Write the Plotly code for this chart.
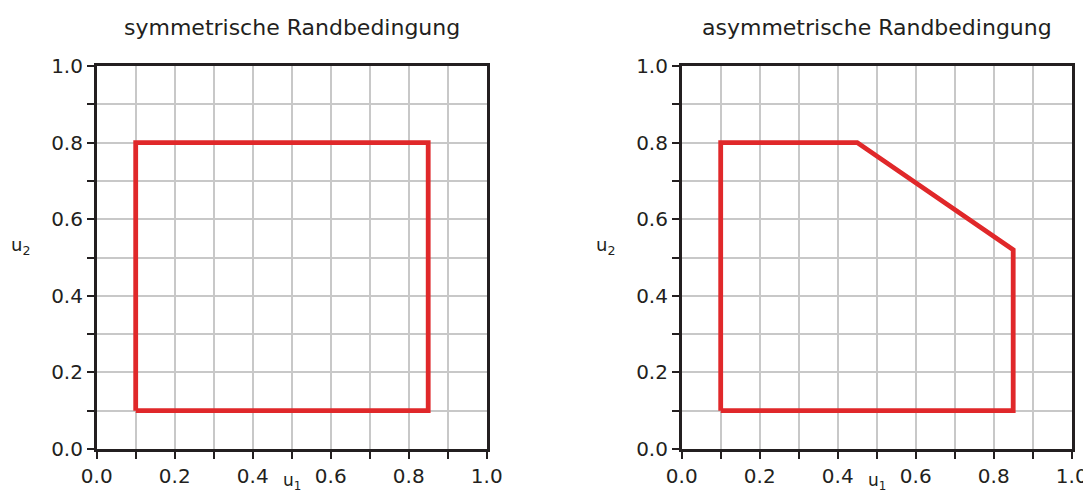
import plotly.graph_objects as go

# Data
sym_u1 = [0.1, 0.85, 0.85, 0.1, 0.1]
sym_u2 = [0.1, 0.1, 0.8, 0.8, 0.1]
asym_u1 = [0.1, 0.85, 0.85, 0.45, 0.1, 0.1]
asym_u2 = [0.1, 0.1, 0.52, 0.8, 0.8, 0.1]
titles = ["symmetrische Randbedingung", "asymmetrische Randbedingung"]
tick_vals = [0.0, 0.2, 0.4, 0.6, 0.8, 1.0]
tick_text = ["0.0", "0.2", "0.4", "0.6", "0.8", "1.0"]

W, H = 1091, 495
OFF = 8  # page body margin offset
RED = "#E0282A"
AXC = "#231F20"
GRID = "#C8C8C8"
FONT = "DejaVu Sans, Liberation Sans, Arial, sans-serif"


def px_x(p):
    return (p - OFF) / W


def px_y(p):
    return 1 - (p - OFF) / H


fig = go.Figure()
fig.add_trace(go.Scatter(x=sym_u1, y=sym_u2, mode="lines",
                         line=dict(color=RED, width=4.8), xaxis="x", yaxis="y",
                         showlegend=False, hoverinfo="skip"))
fig.add_trace(go.Scatter(x=asym_u1, y=asym_u2, mode="lines",
                         line=dict(color=RED, width=4.8), xaxis="x2", yaxis="y2",
                         showlegend=False, hoverinfo="skip"))

dom_y = [px_y(449), px_y(66)]
dom_x1 = [px_x(96.7), px_x(486.7)]
dom_x2 = [px_x(681.7), px_x(1071.7)]


def axis(domain, anchor):
    return dict(
        domain=domain, anchor=anchor, range=[0, 1], automargin=False,
        tickmode="array", tickvals=tick_vals, ticktext=tick_text,
        ticks="outside", ticklen=7, tickwidth=2, tickcolor=AXC,
        showline=True, linecolor=AXC, linewidth=2.5, mirror=True,
        showgrid=True, gridcolor=GRID, gridwidth=1.5,
        zeroline=False,
        minor=dict(dtick=0.1, tick0=0, ticks="outside", ticklen=7, tickwidth=2,
                   tickcolor=AXC, showgrid=True, gridcolor=GRID, gridwidth=1.5),
        tickfont=dict(family=FONT, size=20, color=AXC),
        fixedrange=True,
    )


fig.update_layout(
    template="none",
    width=W, height=H,
    margin=dict(l=0, r=0, t=0, b=0, autoexpand=False),
    paper_bgcolor="white", plot_bgcolor="white",
    xaxis=axis(dom_x1, "y"),
    yaxis=axis(dom_y, "x"),
    xaxis2=axis(dom_x2, "y2"),
    yaxis2=axis(dom_y, "x2"),
)

ann = []
for dx, t in zip([dom_x1, dom_x2], titles):
    cx = (dx[0] + dx[1]) / 2
    ann.append(dict(text=t, x=cx, y=px_y(27), xref="paper", yref="paper",
                    showarrow=False, xanchor="center", yanchor="middle",
                    font=dict(family=FONT, size=22, color=AXC)))
    ann.append(dict(text="u<sub>1</sub>", x=cx, y=px_y(481), xref="paper", yref="paper",
                    showarrow=False, xanchor="center", yanchor="middle",
                    font=dict(family=FONT, size=17, color=AXC)))
    ann.append(dict(text="u<sub>2</sub>", x=dx[0] - 76 / W, y=px_y(246),
                    xref="paper", yref="paper",
                    showarrow=False, xanchor="center", yanchor="middle",
                    font=dict(family=FONT, size=18, color=AXC)))
fig.update_layout(annotations=ann)

fig.write_html("out.html")
